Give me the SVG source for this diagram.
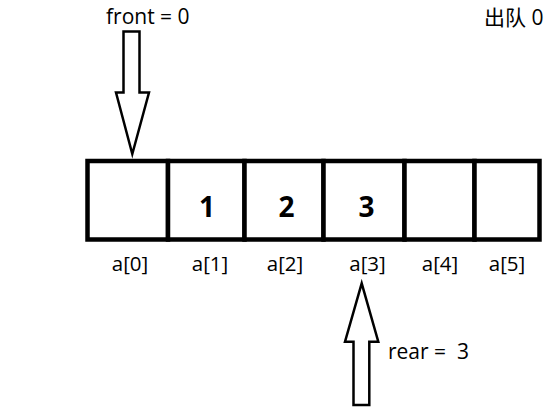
<svg xmlns="http://www.w3.org/2000/svg" width="553" height="408" viewBox="0 0 553 408">
<style>
.cell{fill:#fff;stroke:#000;stroke-width:4.5}
.val{font-family:"Open Sans","Noto Sans",sans-serif;font-weight:bold;font-size:28px;fill:#000;text-anchor:middle}
.lbl{font-family:"Open Sans","Noto Sans",sans-serif;font-size:20.5px;fill:#000;text-anchor:middle}
.txt{font-family:"Open Sans","Noto Sans","Noto Sans CJK SC",sans-serif;font-size:21px;fill:#000}
.arrow{fill:#fff;stroke:#000;stroke-width:2.5;stroke-linejoin:miter}
</style>
<rect width="553" height="408" fill="#fff"/>
<g id="array">
<g id="cell0"><rect class="cell" x="87.5" y="161" width="80.5" height="78.5"/></g>
<g id="cell1"><rect class="cell" x="168" y="161" width="76.5" height="78.5"/><text class="val" x="207" y="217">1</text></g>
<g id="cell2"><rect class="cell" x="244.5" y="161" width="79" height="78.5"/><text class="val" x="286.5" y="217">2</text></g>
<g id="cell3"><rect class="cell" x="323.5" y="161" width="81" height="78.5"/><text class="val" x="366.5" y="217">3</text></g>
<g id="cell4"><rect class="cell" x="404.5" y="161" width="70" height="78.5"/></g>
<g id="cell5"><rect class="cell" x="474.5" y="161" width="65" height="78.5"/></g>
</g>
<g id="labels">
<text class="lbl" x="130" y="271">a[0]</text>
<text class="lbl" x="210" y="271">a[1]</text>
<text class="lbl" x="285" y="271">a[2]</text>
<text class="lbl" x="367.5" y="271">a[3]</text>
<text class="lbl" x="440" y="271">a[4]</text>
<text class="lbl" x="507" y="271">a[5]</text>
</g>
<g id="connectors">
<polygon id="front-arrow" class="arrow" points="123.5,31.5 139.5,31.5 139.5,92.5 149,92.5 132.3,154 116,92.5 123.5,92.5"/>
<polygon id="rear-arrow" class="arrow" points="353.5,405 369.3,405 369.3,341.7 378.3,341.7 361.7,283.3 345,341.7 353.5,341.7"/>
</g>
<g id="front-label"><text class="txt" x="106" y="24">front = 0</text></g>
<g id="rear-label"><text class="txt" x="388" y="359" xml:space="preserve">rear =  3</text></g>
<g id="dequeue-label"><text class="txt" x="484" y="25">出队 0</text></g>
</svg>
